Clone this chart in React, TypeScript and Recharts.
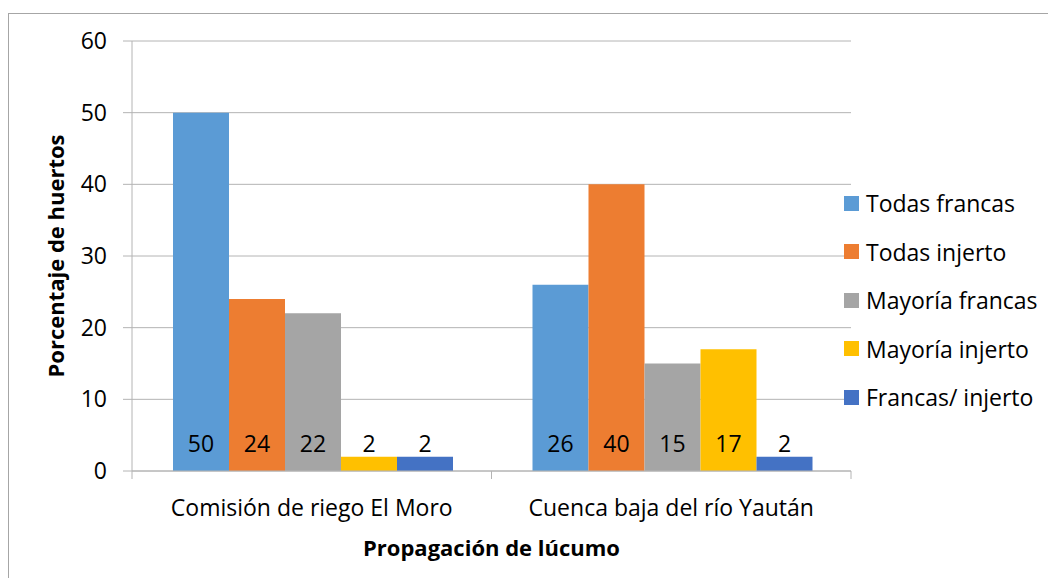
import React from "react";
import {
  BarChart,
  Bar,
  XAxis,
  YAxis,
  CartesianGrid,
  LabelList,
} from "recharts";

const categories = ["Comisión de riego El Moro", "Cuenca baja del río Yaután"];
const todasFrancas = [50, 26];
const todasInjerto = [24, 40];
const mayoriaFrancas = [22, 15];
const mayoriaInjerto = [2, 17];
const francasInjerto = [2, 2];
const yTicks = [0, 10, 20, 30, 40, 50, 60];

const seriesNames = [
  "Todas francas",
  "Todas injerto",
  "Mayoría francas",
  "Mayoría injerto",
  "Francas/ injerto",
];
const seriesColors = ["#5B9BD5", "#ED7D31", "#A5A5A5", "#FFC000", "#4472C4"];

const data = categories.map((name, i) => ({
  name,
  s0: todasFrancas[i],
  s1: todasInjerto[i],
  s2: mayoriaFrancas[i],
  s3: mayoriaInjerto[i],
  s4: francasInjerto[i],
}));

const FONT = "'Open Sans', sans-serif";
const GRID = "#b4b4b4";
const W = 1048;
const H = 570;
const Y_W = 124;
const margin = { top: 33, right: 205, bottom: 27, left: 0 };
const plotW = W - margin.left - margin.right - Y_W;
const band = plotW / categories.length;

function ValueLabel(props: any) {
  const { x, y, width, height, value } = props;
  const bottom = y + height;
  return (
    <text
      x={x + width / 2}
      y={bottom - 28}
      textAnchor="middle"
      dominantBaseline="central"
      fontSize={23}
      fontFamily={FONT}
      fill="#000"
    >
      {value}
    </text>
  );
}

function CategoryTick(props: any) {
  const { x, y, payload, index } = props;
  const last = index === categories.length - 1;
  return (
    <g>
      <line x1={x - band / 2} x2={x - band / 2} y1={y} y2={y + 8} stroke={GRID} />
      {last && (
        <line x1={x + band / 2} x2={x + band / 2} y1={y} y2={y + 8} stroke={GRID} />
      )}
      <text
        x={x}
        y={y + 36}
        textAnchor="middle"
        dominantBaseline="central"
        fontSize={23}
        fontFamily={FONT}
        fill="#000"
      >
        {payload.value}
      </text>
    </g>
  );
}

function LegendBox() {
  return (
    <div
      style={{
        position: "absolute",
        left: 836,
        top: 171,
        fontFamily: FONT,
        fontSize: 23,
        color: "#000",
        whiteSpace: "nowrap",
      }}
    >
      {seriesNames.map((n, i) => (
        <div
          key={n}
          style={{ display: "flex", alignItems: "center", height: 48.5 }}
        >
          <span
            style={{
              display: "inline-block",
              width: 15,
              height: 15,
              background: seriesColors[i],
              marginRight: 7,
            }}
          />
          <span>{n}</span>
        </div>
      ))}
    </div>
  );
}

export default function App() {
  return (
    <div style={{ position: "relative", width: W, height: H }}>
      <div
        style={{
          position: "absolute",
          left: 0,
          top: 5,
          width: W - 1,
          height: H - 5,
          borderTop: "1px solid #a6a6a6",
          borderLeft: "1px solid #a6a6a6",
        }}
      />
      <BarChart
        width={W}
        height={H}
        data={data}
        margin={margin}
        barGap={0}
        barCategoryGap={41}
        style={{ position: "absolute", left: 0, top: 0 }}
      >
        <CartesianGrid vertical={false} stroke={GRID} />
        <XAxis
          dataKey="name"
          height={80}
          axisLine={{ stroke: GRID }}
          tickLine={false}
          tickSize={0}
          tickMargin={0}
          interval={0}
          tick={<CategoryTick />}
          label={(p: any) => {
            const vb = p.viewBox;
            return (
              <text
                x={vb.x + vb.width / 2}
                y={vb.y + 76}
                textAnchor="middle"
                dominantBaseline="central"
                fontSize={22}
                fontWeight="bold"
                fontFamily={FONT}
                fill="#000"
              >
                Propagación de lúcumo
              </text>
            );
          }}
        />
        <YAxis
          width={Y_W}
          domain={[0, 60]}
          ticks={yTicks}
          interval={0}
          axisLine={{ stroke: GRID }}
          tickLine={{ stroke: GRID }}
          tickSize={9}
          tickMargin={16}
          tick={{ fontSize: 23, fontFamily: FONT, fill: "#000" }}
          label={(p: any) => {
            const vb = p.viewBox;
            const cx = 47;
            const cy = vb.y + vb.height / 2;
            return (
              <text
                x={cx}
                y={cy}
                transform={`rotate(-90 ${cx} ${cy})`}
                textAnchor="middle"
                dominantBaseline="central"
                fontSize={22}
                fontWeight="bold"
                fontFamily={FONT}
                fill="#000"
              >
                Porcentaje de huertos
              </text>
            );
          }}
        />
        {seriesNames.map((n, i) => (
          <Bar
            key={n}
            dataKey={`s${i}`}
            name={n}
            fill={seriesColors[i]}
            isAnimationActive={false}
          >
            <LabelList dataKey={`s${i}`} content={<ValueLabel />} />
          </Bar>
        ))}
      </BarChart>
      <LegendBox />
    </div>
  );
}
